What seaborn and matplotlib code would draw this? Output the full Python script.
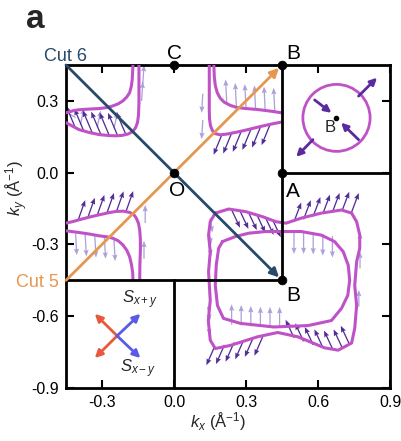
import numpy as np
import pandas as pd
import matplotlib
matplotlib.use("Agg")
import matplotlib.pyplot as plt
from matplotlib.patches import Circle
import seaborn as sns

# ---------------- data ----------------
x_ticks = [-0.3, 0.0, 0.3, 0.6, 0.9]
y_ticks = [-0.9, -0.6, -0.3, 0.0, 0.3]
x_tick_labels = ["-0.3", "0.0", "0.3", "0.6", "0.9"]
y_tick_labels = ["-0.9", "-0.6", "-0.3", "0.0", "0.3"]

# high-symmetry points
pt_names = ["C", "B", "O", "A", "B"]
pt_x = [0.0, 0.45, 0.0, 0.45, 0.45]
pt_y = [0.45, 0.45, 0.0, 0.0, -0.45]

# Brillouin-zone lines (start, end)
bz_x0 = [-0.45, 0.45, 0.45, 0.0]
bz_y0 = [-0.45, 0.45, 0.0, -0.45]
bz_x1 = [0.45, 0.45, 0.9, 0.0]
bz_y1 = [-0.45, -0.45, 0.0, -0.9]

# cuts
cut6_x = [-0.45, 0.45]
cut6_y = [0.45, -0.45]
cut5_x = [-0.45, 0.45]
cut5_y = [-0.45, 0.45]

# Fermi contours
tl_out_x = [-0.45, -0.42, -0.396, -0.35, -0.311, -0.27, -0.241, -0.215, -0.19, -0.172, -0.16, -0.152, -0.148, -0.146, -0.146, -0.146]
tl_out_y = [0.209, 0.193, 0.18, 0.167, 0.159, 0.155, 0.154, 0.156, 0.162, 0.172, 0.188, 0.21, 0.24, 0.292, 0.36, 0.45]
tl_in_x = [-0.45, -0.42, -0.396, -0.35, -0.311, -0.28, -0.255, -0.232, -0.213, -0.197, -0.185, -0.178, -0.174, -0.171]
tl_in_y = [0.25, 0.259, 0.263, 0.266, 0.268, 0.272, 0.279, 0.288, 0.3, 0.316, 0.334, 0.36, 0.39, 0.45]

tr_out_x = [0.45, 0.40, 0.348, 0.30, 0.264, 0.225, 0.194, 0.172, 0.16, 0.152, 0.148, 0.147, 0.147, 0.147]
tr_out_y = [0.212, 0.202, 0.19, 0.178, 0.17, 0.162, 0.158, 0.163, 0.176, 0.196, 0.225, 0.264, 0.34, 0.45]
tr_in_x = [0.45, 0.404, 0.348, 0.30, 0.264, 0.235, 0.21, 0.192, 0.18, 0.172, 0.168, 0.166]
tr_in_y = [0.25, 0.257, 0.264, 0.268, 0.272, 0.281, 0.294, 0.312, 0.335, 0.365, 0.40, 0.45]

bl_out_x = [-0.45, -0.42, -0.396, -0.35, -0.311, -0.27, -0.241, -0.21, -0.185, -0.167, -0.157, -0.148, -0.143, -0.14, -0.14, -0.142, -0.143]
bl_out_y = [-0.211, -0.204, -0.197, -0.185, -0.176, -0.167, -0.162, -0.161, -0.166, -0.176, -0.19, -0.212, -0.239, -0.28, -0.323, -0.38, -0.45]
bl_in_x = [-0.45, -0.42, -0.396, -0.35, -0.311, -0.28, -0.255, -0.232, -0.213, -0.197, -0.185, -0.177, -0.172, -0.171]
bl_in_y = [-0.243, -0.247, -0.25, -0.257, -0.264, -0.268, -0.274, -0.285, -0.302, -0.324, -0.351, -0.385, -0.42, -0.45]

big_out_x = [0.172, 0.228, 0.299, 0.369, 0.425, 0.467, 0.530, 0.614, 0.698, 0.740, 0.761, 0.774, 0.774, 0.761,
             0.753, 0.761, 0.753, 0.740, 0.684, 0.627, 0.516, 0.432, 0.348, 0.235, 0.172, 0.151, 0.143, 0.151,
             0.144, 0.151, 0.144, 0.151, 0.172]
big_out_y = [-0.169, -0.152, -0.163, -0.184, -0.205, -0.211, -0.190, -0.169, -0.156, -0.169, -0.205, -0.261, -0.316, -0.372,
             -0.471, -0.555, -0.651, -0.712, -0.742, -0.732, -0.686, -0.668, -0.686, -0.722, -0.735, -0.700, -0.618, -0.534,
             -0.414, -0.330, -0.261, -0.205, -0.169]
big_in_x = [0.202, 0.256, 0.311, 0.383, 0.467, 0.530, 0.614, 0.669, 0.705, 0.726, 0.732, 0.724, 0.698, 0.656, 0.559,
            0.416, 0.277, 0.206, 0.181, 0.172, 0.176, 0.186, 0.202]
big_in_y = [-0.288, -0.267, -0.253, -0.246, -0.246, -0.246, -0.261, -0.288, -0.330, -0.387, -0.45, -0.513, -0.567, -0.618, -0.639,
            -0.645, -0.630, -0.609, -0.555, -0.471, -0.387, -0.316, -0.288]

# spin arrows (tail positions and vectors)
dk_x = [-0.41, -0.375, -0.34, -0.305, -0.27, -0.235, -0.20,
        0.20, 0.24, 0.28, 0.32, 0.36, 0.40,
        -0.40, -0.36, -0.32, -0.28, -0.24, -0.20,
        0.24, 0.275, 0.31, 0.345, 0.38, 0.41,
        0.50, 0.54, 0.58, 0.62, 0.66, 0.70, 0.74,
        0.50, 0.54, 0.58, 0.62, 0.66, 0.70, 0.73,
        0.17, 0.21, 0.25, 0.29, 0.33, 0.37]
dk_y = [0.185, 0.172, 0.165, 0.16, 0.156, 0.155, 0.158,
        0.16, 0.165, 0.172, 0.18, 0.19, 0.20,
        -0.20, -0.19, -0.178, -0.17, -0.163, -0.162,
        -0.155, -0.16, -0.165, -0.175, -0.185, -0.195,
        -0.205, -0.195, -0.182, -0.172, -0.165, -0.16, -0.165,
        -0.69, -0.705, -0.72, -0.73, -0.735, -0.73, -0.715,
        -0.725, -0.72, -0.71, -0.70, -0.69, -0.685]
dk_u = [-0.04] * 7 + [-0.035] * 6 + [0.03] * 6 + [0.035] * 6 + [0.03] * 7 + [-0.035] * 7 + [-0.035] * 6
dk_v = [0.095] * 7 + [-0.085] * 6 + [0.085] * 6 + [-0.075] * 6 + [0.08] * 7 + [0.075] * 7 + [-0.08] * 6

lt_x = [-0.135, -0.13, -0.41, -0.39, -0.32, -0.25,
        0.22, 0.26, 0.30, 0.34, 0.38, 0.42, 0.12, 0.12,
        -0.41, -0.37, -0.33, -0.29, -0.25, -0.125, -0.12,
        0.15, 0.145, 0.145, 0.14, 0.14,
        0.50, 0.54, 0.58, 0.62, 0.66,
        0.24, 0.28, 0.32, 0.36, 0.40, 0.44,
        0.775, 0.775, 0.77]
lt_y = [0.30, 0.37, 0.23, 0.20, 0.19, 0.185,
        0.29, 0.275, 0.27, 0.265, 0.26, 0.255, 0.33, 0.22,
        -0.255, -0.26, -0.265, -0.27, -0.28, -0.36, -0.21,
        -0.19, -0.24, -0.29, -0.56, -0.62,
        -0.25, -0.25, -0.252, -0.257, -0.265,
        -0.635, -0.638, -0.642, -0.645, -0.646, -0.646,
        -0.32, -0.40, -0.56]
lt_u = [0.005, 0.005, -0.05, 0.015, 0.015, 0.015,
        -0.005, -0.005, -0.005, -0.005, -0.005, -0.005, -0.005, -0.005,
        0.005, 0.005, 0.005, 0.005, 0.005, 0.0, 0.0,
        0.01, 0.01, 0.01, 0.01, 0.01,
        0.0, 0.0, 0.0, 0.0, 0.0,
        0.0, 0.0, 0.0, 0.0, 0.0, 0.0,
        0.0, 0.0, 0.0]
lt_v = [0.08, 0.08, 0.03, 0.07, 0.07, 0.07,
        0.1, 0.1, 0.1, 0.1, 0.1, 0.1, -0.08, -0.08,
        -0.09, -0.09, -0.09, -0.09, -0.09, 0.075, 0.075,
        -0.06, -0.06, -0.06, -0.06, -0.06,
        -0.09, -0.09, -0.09, -0.09, -0.09,
        0.085, 0.085, 0.085, 0.085, 0.085, 0.085,
        0.07, 0.07, 0.07]

# inset (top right): spin around B
circ_center = (0.677, 0.229)
circ_radius = 0.14
inset_tail_x = [0.586, 0.769, 0.769, 0.579]
inset_tail_y = [0.304, 0.138, 0.320, 0.138]
inset_tip_x = [0.656, 0.696, 0.846, 0.509]
inset_tip_y = [0.250, 0.209, 0.397, 0.066]

# legend inset (bottom left)
leg_center = (-0.237, -0.682)
leg_tip_x = [-0.33, -0.33, -0.14, -0.14]
leg_tip_y = [-0.59, -0.775, -0.59, -0.775]
leg_colors = ["#e8583c", "#e8583c", "#5a5ae6", "#5a5ae6"]

# ---------------- styling ----------------
sns.set_theme(style="ticks")
plt.rcParams["font.family"] = ["Liberation Sans", "DejaVu Sans"]
plt.rcParams["mathtext.fontset"] = "custom"
plt.rcParams["mathtext.rm"] = "Liberation Sans"
plt.rcParams["mathtext.it"] = "Liberation Sans:italic"

MAG = "#c052c8"
DARK = "#4a2190"
LIGHT = "#9a8ad2"
NAVY = "#264a6a"
ORANGE = "#e8964e"

fig = plt.figure(figsize=(4.01, 4.41), dpi=100)
ax = fig.add_axes([66 / 401, 1 - 388 / 441, 324 / 401, 323 / 441])
ax.set_facecolor("white")

# spin arrows
ax.quiver(lt_x, lt_y, lt_u, lt_v, angles="xy", scale_units="xy", scale=1,
          color=LIGHT, alpha=0.8, width=0.004, headwidth=4, headlength=5,
          headaxislength=4.5, zorder=2)
ax.quiver(dk_x, dk_y, dk_u, dk_v, angles="xy", scale_units="xy", scale=1,
          color=DARK, alpha=0.95, width=0.004, headwidth=4, headlength=5,
          headaxislength=4.5, zorder=2)

# contours
for cx, cy in [(tl_out_x, tl_out_y), (tl_in_x, tl_in_y), (tr_out_x, tr_out_y), (tr_in_x, tr_in_y),
               (bl_out_x, bl_out_y), (bl_in_x, bl_in_y), (big_out_x, big_out_y), (big_in_x, big_in_y)]:
    sns.lineplot(x=cx, y=cy, sort=False, estimator=None, color=MAG, lw=2.2, ax=ax, zorder=3)

# BZ lines
for x0, y0, x1, y1 in zip(bz_x0, bz_y0, bz_x1, bz_y1):
    sns.lineplot(x=[x0, x1], y=[y0, y1], sort=False, estimator=None, color="black", lw=2, ax=ax, zorder=4)

# cuts
ax.annotate("", xy=(cut6_x[1], cut6_y[1]), xytext=(cut6_x[0], cut6_y[0]),
            arrowprops=dict(arrowstyle="-|>", color=NAVY, lw=2, mutation_scale=13, shrinkA=0, shrinkB=3),
            zorder=5, annotation_clip=False)
ax.annotate("", xy=(cut5_x[1], cut5_y[1]), xytext=(cut5_x[0], cut5_y[0]),
            arrowprops=dict(arrowstyle="-|>", color=ORANGE, lw=2, mutation_scale=13, shrinkA=0, shrinkB=3),
            zorder=5, annotation_clip=False)

# points
sns.scatterplot(x=pt_x, y=pt_y, s=40, color="black", edgecolor="black", ax=ax, zorder=6,
                clip_on=False, legend=False)

# point labels
lab_pos = [(0.0, 0.50), (0.495, 0.50), (0.015, -0.075), (0.495, -0.078), (0.495, -0.512)]
for name, (lx, ly) in zip(pt_names, lab_pos):
    ax.text(lx, ly, name, fontsize=15, ha="center", va="center", color="black", clip_on=False, zorder=7)

ax.text(-0.362, 0.467, "Cut 6", color=NAVY, fontsize=13, ha="right", va="baseline", clip_on=False)
ax.text(-0.48, -0.478, "Cut 5", color=ORANGE, fontsize=13, ha="right", va="baseline", clip_on=False)

# inset circle
ax.add_patch(Circle(circ_center, circ_radius, fill=False, ec=MAG, lw=2, zorder=3))
for tx, ty, hx, hy in zip(inset_tail_x, inset_tail_y, inset_tip_x, inset_tip_y):
    ax.annotate("", xy=(hx, hy), xytext=(tx, ty),
                arrowprops=dict(arrowstyle="-|>", color="#5b2a9e", lw=2, mutation_scale=10, shrinkA=0, shrinkB=0),
                zorder=5)
ax.plot([circ_center[0]], [circ_center[1]], "o", color="black", ms=3, zorder=6)
ax.text(0.649, 0.188, "B", fontsize=12, ha="center", va="center")

# legend inset
for hx, hy, c in zip(leg_tip_x, leg_tip_y, leg_colors):
    ax.annotate("", xy=(hx, hy), xytext=leg_center,
                arrowprops=dict(arrowstyle="-|>", color=c, lw=2, mutation_scale=11, shrinkA=0, shrinkB=0),
                zorder=5)
ax.text(-0.143, -0.533, r"$S_{x+y}$", fontsize=12, ha="center", va="center")
ax.text(-0.15, -0.82, r"$S_{x-y}$", fontsize=12, ha="center", va="center")

# axes
ax.set_xlim(-0.45, 0.9)
ax.set_ylim(-0.9, 0.45)
ax.set_xticks(x_ticks)
ax.set_xticklabels(x_tick_labels)
ax.set_yticks(y_ticks)
ax.set_yticklabels(y_tick_labels)
ax.tick_params(direction="in", top=True, right=True, length=6, width=1.5,
               labelsize=11.5, pad=5, colors="black")
for sp in ax.spines.values():
    sp.set_visible(True)
    sp.set_linewidth(2)
    sp.set_color("black")

ax.set_xlabel(r"$k_x$ (Å$^{-1}$)", fontsize=12)
ax.set_ylabel(r"$k_y$ (Å$^{-1}$)", fontsize=12)
ax.xaxis.set_label_coords(0.47, -0.07)
ax.yaxis.set_label_coords(-0.11, 0.62)

fig.text(35 / 401, 1 - 28 / 441, "a", fontsize=24, fontweight="bold", ha="center", va="baseline")

fig.savefig("out.png", dpi=100)
